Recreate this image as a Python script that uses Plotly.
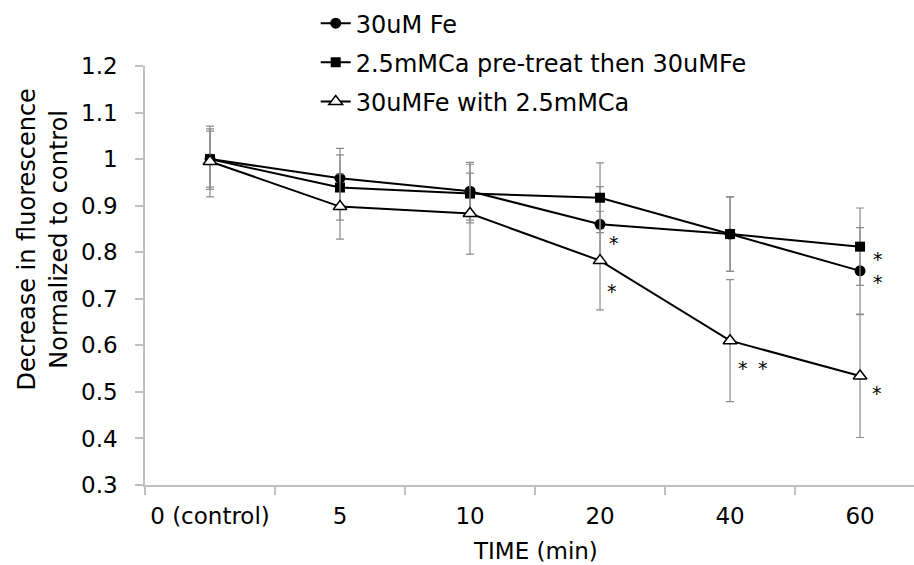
import plotly.graph_objects as go

# Time points (categorical x axis)
time_labels = ["0 (control)", "5", "10", "20", "40", "60"]

# Normalized fluorescence, mean and error per condition
fe_30uM = [1.000, 0.959, 0.931, 0.860, 0.839, 0.760]
fe_30uM_err = [0.065, 0.064, 0.062, 0.081, 0.080, 0.093]

ca_pretreat = [1.000, 0.939, 0.926, 0.917, 0.839, 0.812]
ca_pretreat_err = [0.060, 0.070, 0.063, 0.075, 0.080, 0.083]

fe_with_ca = [0.995, 0.898, 0.883, 0.782, 0.610, 0.534]
fe_with_ca_err = [0.076, 0.070, 0.087, 0.106, 0.131, 0.132]

series_names = [
    "30uM Fe",
    "2.5mMCa pre-treat then 30uMFe",
    "30uMFe with 2.5mMCa",
]

y_ticks = [0.3, 0.4, 0.5, 0.6, 0.7, 0.8, 0.9, 1.0, 1.1, 1.2]
y_tick_text = ["0.3", "0.4", "0.5", "0.6", "0.7", "0.8", "0.9", "1", "1.1", "1.2"]

# Significance asterisks, placed in (category position, y value)
sig_x = [3.11, 3.09, 4.10, 4.25, 5.14, 5.14, 5.13]
sig_y = [0.820, 0.717, 0.551, 0.551, 0.785, 0.736, 0.497]

FONT = "DejaVu Sans, Arial, sans-serif"
ERR_COLOR = "#8c8c8c"
AXIS_COLOR = "#c0c0c0"


def err(vals):
    return dict(type="data", array=vals, visible=True, color=ERR_COLOR,
                thickness=1.2, width=4)


fig = go.Figure()

fig.add_trace(go.Scatter(
    x=time_labels, y=fe_30uM, name=series_names[0], mode="lines+markers",
    legendgroup="a",
    line=dict(color="black", width=2),
    marker=dict(symbol="circle", size=11, color="black"),
    error_y=err(fe_30uM_err),
))
fig.add_trace(go.Scatter(
    x=time_labels, y=ca_pretreat, name=series_names[1], mode="lines+markers",
    legendgroup="b",
    line=dict(color="black", width=2),
    marker=dict(symbol="square", size=10, color="black"),
    error_y=err(ca_pretreat_err),
))
fig.add_trace(go.Scatter(
    x=time_labels, y=fe_with_ca, name=series_names[2], mode="lines+markers",
    legendgroup="c",
    line=dict(color="black", width=2),
    marker=dict(symbol="triangle-up", size=12, color="white",
                line=dict(color="black", width=1.5)),
    error_y=err(fe_with_ca_err),
))

for sx, sy in zip(sig_x, sig_y):
    fig.add_annotation(x=sx, y=sy, xref="x", yref="y", text="*",
                       showarrow=False, yshift=0,
                       font=dict(family=FONT, size=19, color="black"))

# Axis titles
fig.add_annotation(
    x=-0.1333, y=0.587, xref="paper", yref="paper",
    xanchor="center", yanchor="middle",
    text="Decrease in fluorescence<br>Normalized to control",
    textangle=-90, showarrow=False,
    font=dict(family=FONT, size=24, color="black"),
)
fig.add_annotation(
    x=0.508, y=-0.158, xref="paper", yref="paper",
    xanchor="center", yanchor="middle",
    text="TIME (min)", showarrow=False,
    font=dict(family=FONT, size=23, color="black"),
)

fig.update_layout(
    width=914, height=565,
    margin=dict(l=145, r=0, t=66, b=80),
    paper_bgcolor="white", plot_bgcolor="white",
    font=dict(family=FONT, size=23, color="black"),
    showlegend=True,
    legend=dict(
        x=0.222, y=1.155, xanchor="left", yanchor="top",
        bgcolor="rgba(0,0,0,0)", itemwidth=30,
        font=dict(family=FONT, size=24, color="black"),
        tracegroupgap=5,
    ),
    xaxis=dict(
        type="category", range=[-0.5, 5.415],
        showline=True, linecolor=AXIS_COLOR, linewidth=1.5,
        ticks="outside", tickson="boundaries", ticklen=8,
        tickcolor=AXIS_COLOR, tickwidth=1.5,
        showgrid=False, zeroline=False, ticklabelstandoff=10,
        tickfont=dict(family=FONT, size=23, color="black"),
    ),
    yaxis=dict(
        range=[0.3, 1.2], tickvals=y_ticks, ticktext=y_tick_text,
        showline=True, linecolor=AXIS_COLOR, linewidth=1.5,
        ticks="outside", ticklen=8, tickcolor=AXIS_COLOR, tickwidth=1.5,
        showgrid=False, zeroline=False, ticklabelstandoff=13,
        tickfont=dict(family=FONT, size=23, color="black"),
    ),
)

fig.write_html("out.html")
